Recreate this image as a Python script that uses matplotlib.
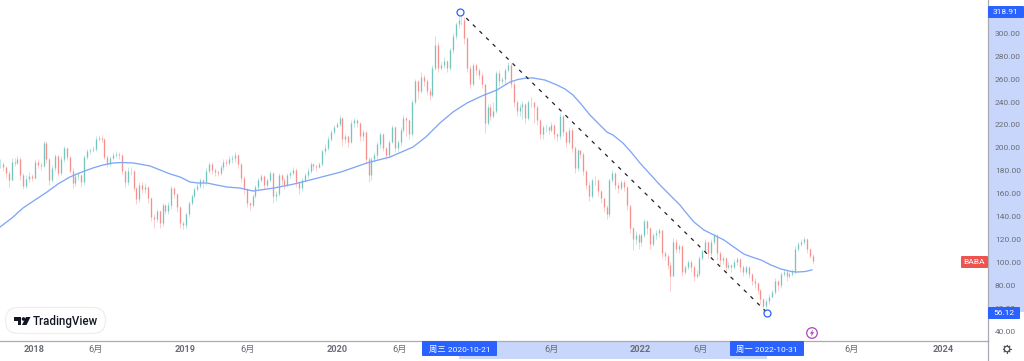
import numpy as np
import matplotlib
matplotlib.use("Agg")
import matplotlib.pyplot as plt
from matplotlib.patches import Rectangle, FancyBboxPatch, Circle, Polygon

FONT = ['Roboto', 'Noto Sans CJK SC', 'DejaVu Sans']
plt.rcParams['font.family'] = FONT

closes = [186,183,178,172,188,187,190,176,167,173,
175,174,188,185,184,204,190,172,182,193,
178,190,200,192,180,169,175,176,170,192,
197,198,199,208,209,208,192,186,191,194,
195,194,180,170,180,180,165,155,168,164,
166,156,140,138,145,134,150,145,150,165,
160,148,134,133,142,152,158,164,167,172,
170,180,186,181,179,178,183,188,187,190,
191,194,186,174,164,152,150,158,166,172,
175,168,172,178,158,160,176,172,168,176,
178,181,170,165,172,176,180,186,184,183,
186,197,200,208,214,218,221,226,208,210,
205,222,224,222,210,214,190,176,190,194,
203,212,200,194,205,218,200,205,216,226,
224,212,240,258,250,262,258,250,246,270,
290,270,272,276,270,285,298,308,312,312,
296,270,256,272,268,264,256,222,236,228,
232,265,258,260,268,272,256,240,232,236,
238,226,240,240,236,224,212,218,218,216,
220,212,210,228,214,205,216,200,182,198,
195,180,168,158,172,172,162,156,148,142,
172,178,168,165,170,166,150,130,120,124,
118,124,136,130,116,124,126,128,108,106,
98,88,118,112,114,92,96,100,96,88,
90,104,110,118,108,118,124,108,102,104,
96,98,96,100,103,96,92,96,90,84,
82,76,68,62,66,70,74,84,80,90,
92,88,90,92,112,116,118,120,112,106,101]
highs = [190,188,184,180,191,191,193,192,178,176,
179,177,190,190,188,206,206,191,185,195,
194,193,202,201,193,182,178,179,177,194,
199,200,202,210,211,211,209,194,193,196,
197,196,195,181,183,183,181,166,170,170,
169,167,157,142,147,146,152,151,153,167,
166,161,149,136,144,154,160,166,169,174,
173,182,188,188,182,181,185,190,190,193,
194,196,195,187,175,165,153,160,168,174,
177,176,174,180,179,162,178,177,174,178,
180,183,182,171,174,178,182,188,187,186,
188,199,203,210,216,220,223,229,227,212,
210,224,226,225,223,216,215,192,192,196,
205,214,213,201,207,220,219,207,218,229,
227,225,242,260,259,266,264,260,252,272,
298,292,275,279,277,287,300,310,316,318,
314,297,272,274,274,270,266,256,238,238,
240,267,268,262,270,275,274,258,242,238,
241,239,242,244,240,237,225,220,221,219,
223,221,213,230,229,215,218,217,202,199,
198,196,181,170,174,175,173,163,156,150,
174,181,179,170,172,172,167,148,131,127,
126,126,138,137,131,126,128,130,128,110,
107,100,121,120,116,115,98,102,102,98,
93,106,112,120,119,120,126,125,110,106,
105,100,99,103,105,104,98,98,97,91,
86,83,77,69,68,72,76,86,85,92,
94,93,92,94,114,118,120,122,121,113,107]
lows = [182,180,174,166,172,184,186,172,164,165,
170,171,173,182,181,183,187,168,170,180,
175,176,188,189,178,165,167,172,166,168,
190,195,196,197,206,205,190,183,184,189,
192,190,177,166,168,176,162,151,153,161,
161,152,136,130,135,130,132,142,142,147,
156,144,130,129,130,140,150,156,162,165,
165,168,178,177,175,175,176,181,184,185,
187,188,182,170,160,148,146,148,156,164,
170,164,166,170,152,154,158,168,164,166,
174,176,166,160,162,170,174,178,181,180,
182,184,195,198,206,212,218,219,202,204,
201,204,218,218,206,206,186,170,172,188,
190,200,197,190,191,204,196,196,202,214,
210,208,210,238,243,248,254,246,242,244,
268,266,268,270,266,268,283,295,305,307,
291,266,252,254,264,260,252,213,220,224,
226,230,254,256,256,266,252,236,228,228,
225,222,224,236,222,220,208,208,214,212,
214,208,206,208,210,201,203,196,178,180,
191,176,164,154,156,168,158,152,144,138,
140,170,164,161,163,162,146,126,111,116,
112,114,122,125,112,114,120,122,104,102,
94,75,88,108,108,88,90,94,92,84,
86,88,102,108,104,106,116,102,98,99,
92,94,92,94,98,92,88,90,86,80,
78,72,64,57,60,64,70,72,76,78,
88,84,86,88,90,110,114,116,108,104,99]

ma_dates = [2017.776,2017.855,2017.928,2018.007,2018.086,2018.158,2018.238,2018.317,2018.389,
2018.455,2018.521,2018.587,2018.653,2018.713,2018.766,2018.832,2018.898,2018.964,
2019.030,2019.083,2019.142,2019.208,2019.274,2019.360,2019.446,2019.584,2019.716,
2019.848,2020.026,2020.198,2020.350,2020.502,2020.587,2020.680,2020.766,2020.858,
2020.957,2021.056,2021.142,2021.195,2021.254,2021.294,2021.373,2021.452,2021.505,
2021.558,2021.611,2021.670,2021.729,2021.782,2021.822,2021.888,2021.947,2022.000,
2022.066,2022.132,2022.198,2022.264,2022.290,2022.356,2022.422,2022.488,2022.554,
2022.620,2022.686,2022.739,2022.799,2022.865,2022.931,2023.000,2023.036,2023.089,2023.135]
ma_values = [130.9,138.8,147.5,154.5,161.4,168.4,174.6,178.9,182.4,
185.0,186.8,187.2,186.8,185.5,184.2,180.7,177.2,174.6,
170.2,169.3,169.3,167.5,165.8,164.9,162.3,164.9,168.4,
172.8,178.9,186.8,192.0,200.7,209.5,221.7,231.3,239.1,
245.3,250.5,257.5,259.7,261.0,261.0,259.2,254.9,251.4,
246.1,238.3,228.7,220.8,213.8,211.2,204.2,195.5,186.8,
177.2,167.6,158.8,150.1,145.7,135.3,128.3,123.9,119.6,
113.4,107.3,104.7,102.1,97.7,94.2,92.0,91.6,92.0,93.4]

trend_dates = [2020.81, 2022.84]
trend_prices = [318.91, 56.12]

y_ticks = [40,60,80,100,120,140,160,180,200,220,240,260,280,300]
x_ticks = [2018, 2018.41, 2019, 2019.41, 2020, 2020.415, 2021, 2021.415, 2022, 2022.40, 2023, 2023.40, 2024]
x_labels = ['2018','6月','2019','6月','2020','6月','2021','6月','2022','6月','2023','6月','2024']
year_labels = {'2018','2019','2020','2021','2022','2023','2024'}

W, H = 1024, 361
fig = plt.figure(figsize=(W/100, H/100), dpi=100, facecolor='white')

under = fig.add_axes([0,0,1,1], zorder=-1)
under.set_xlim(0,W); under.set_ylim(H,0); under.axis('off')
under.add_patch(Rectangle((988,12),36,300,fc='#c8d6fb',ec='none'))
under.add_patch(Rectangle((459,341),308,18,fc='#c8d6fb',ec='none'))

ax = fig.add_axes([0, 1-340.6/H, 988/W, 340.6/H], zorder=0)
ax.patch.set_alpha(0)
ax.set_xlim(2017.776, 2017.776+988/151.5)
ax.set_ylim(329.07-0.873*340.6, 329.07)
for s in ('top','left'):
    ax.spines[s].set_visible(False)
for s in ('bottom','right'):
    ax.spines[s].set_color('#a8abb3'); ax.spines[s].set_linewidth(0.9)

t = 2017.776 + np.arange(len(closes))/52.2
c = np.array(closes,float); h = np.array(highs,float); l = np.array(lows,float)
o = np.r_[c[0], c[:-1]]
up = c >= o
GREEN, RED = '#26a69a', '#ef5350'
for mask, col in ((up,GREEN),(~up,RED)):
    ax.vlines(t[mask], l[mask], h[mask], color=col, lw=0.5, alpha=0.4, zorder=2)
    ax.vlines(t[mask], o[mask], c[mask], color=col, lw=1.0, alpha=0.5, zorder=2.1)

ax.plot(ma_dates, ma_values, color='#82a6f6', lw=0.95, zorder=3)
ax.plot(trend_dates, trend_prices, color='#222222', lw=0.9, ls=(0,(3,4.4)), zorder=4)
ax.plot(trend_dates, trend_prices, ls='none', marker='o', ms=5, mfc='white', mec='#2962ff', mew=0.9, zorder=5)

ax.yaxis.tick_right()
ax.set_yticks(y_ticks)
ax.set_yticklabels([f'{v:.2f}' for v in y_ticks], fontsize=6.0, color='#6a6d78')
ax.tick_params(axis='y', length=0, pad=5)
ax.set_xticks(x_ticks)
ax.set_xticklabels(x_labels, fontsize=6.6, color='#6a6d78')
for lab in ax.get_xticklabels():
    if lab.get_text() in year_labels:
        lab.set_fontweight('bold')
ax.tick_params(axis='x', length=0, pad=3.5)

over = fig.add_axes([0,0,1,1], zorder=5)
over.set_xlim(0,W); over.set_ylim(H,0); over.axis('off'); over.patch.set_alpha(0)
BLUE = '#2962ff'
def tag(x0,y0,w,hh,txt,fc=BLUE,size=6.0):
    over.add_patch(FancyBboxPatch((x0+1,y0+1),w-2,hh-2,boxstyle='round,pad=1,rounding_size=1',fc=fc,ec='none'))
    over.text(x0+w/2,y0+hh/2,txt,color='white',fontsize=size,ha='center',va='center')
tag(988,6,36,12,'318.91')
tag(988,307,32,12,'56.12')
tag(961,256,27,12,'BABA',fc='#ef5350')
tag(422,341,75,15,'周三 2020-10-21')
tag(730,341,74,15,'周一 2022-10-31')

# TradingView badge
over.add_patch(FancyBboxPatch((5.5,307.5),100,26,boxstyle='round,pad=0,rounding_size=13',fc='white',ec='#eceef2',lw=0.9))
over.add_patch(Polygon([(13.5,317),(21,317),(21,325),(17.5,325),(17.5,320.5),(13.5,320.5)],fc='#131722',ec='none'))
over.add_patch(Circle((23.5,319),1.8,fc='#131722',ec='none'))
over.add_patch(Polygon([(26,317),(30.5,317),(26.5,325),(22,325)],fc='#131722',ec='none'))
over.text(33,321,'TradingView',fontsize=8.3,fontweight='medium',color='#131722',ha='left',va='center')

# lightning marker
over.add_patch(Circle((812,333),5.3,fc='white',ec='#ab47bc',lw=0.9))
over.add_patch(Polygon([(813.3,329.3),(809.8,333.6),(811.8,333.6),(810.8,336.7),(814.3,332.2),(812.2,332.2)],fc='#ab47bc',ec='none'))

# settings gear
over.add_patch(Circle((1007,349),2.8,fc='white',ec='#50535e',lw=0.9))
for a in np.arange(0,360,45):
    r = np.deg2rad(a)
    over.plot([1007+2.8*np.cos(r),1007+4.0*np.cos(r)],[349+2.8*np.sin(r),349+4.0*np.sin(r)],color='#50535e',lw=0.8)
over.plot([988.3,988.3],[340,361],color='#a8abb3',lw=0.9)
over.set_xlim(0,W); over.set_ylim(H,0)

fig.savefig('out.png', dpi=100)
